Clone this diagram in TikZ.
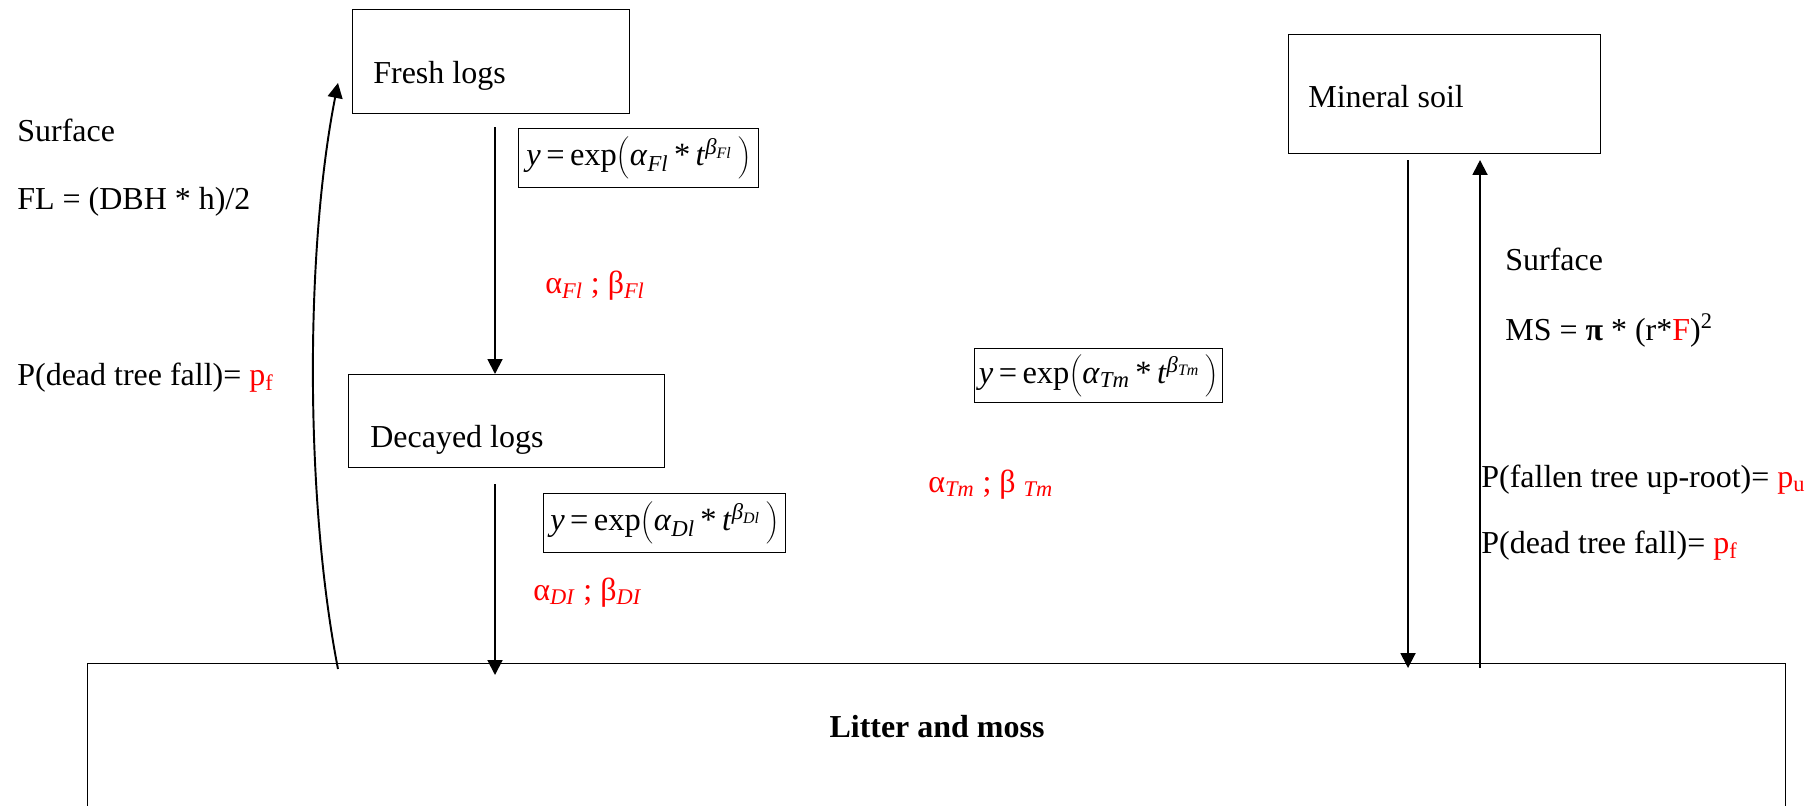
\documentclass[tikz,border=0pt]{standalone}
\usepackage{fontspec}
\setmainfont{Liberation Serif}
\usetikzlibrary{arrows.meta, positioning, calc}

\newcommand{\pxu}{0.02cm}
\newcommand{\expfit}[1]{\textit{y}\,=\,exp$\biggl($\textit{α}\textsubscript{\textit{#1}}\,*\,\textit{t}\textsuperscript{\textit{β}\textsubscript{\textit{#1}}}\,$\biggr)$}

\begin{document}
\begin{tikzpicture}[
    x=0.02cm, y=-0.02cm,
    font=\fontsize{18.2}{22}\selectfont,
    box/.style={draw, line width=0.8pt, anchor=north west, inner sep=0pt},
    fbox/.style={box, font=\fontsize{18.5}{22}\selectfont},
    txt/.style={anchor=base west, inner sep=0pt},
    arr/.style={line width=1.1pt, -{Triangle[length=8.5pt, width=8.5pt]}}
  ]
    \useasboundingbox (0,0) rectangle (1814,805);

    % compartments
    \node[box, minimum width=277*\pxu, minimum height=104*\pxu] (fresh) at (352,9) {};
    \node[box, minimum width=316*\pxu, minimum height=93*\pxu] (decayed) at (348,374) {};
    \node[box, minimum width=312*\pxu, minimum height=119*\pxu] (mineral) at (1288,34) {};
    \node[box, minimum width=1698*\pxu, minimum height=170*\pxu] (litter) at (87,663) {};
    \node[txt] at (373,83) {Fresh logs};
    \node[txt] at (370,447) {Decayed logs};
    \node[txt] at (1308,107) {Mineral soil};
    \node[anchor=base, inner sep=0pt, font=\fontsize{18.2}{22}\selectfont\bfseries] at (937,737) {Litter and moss};

    % decay curves
    \node[fbox, minimum width=240*\pxu, minimum height=59*\pxu] (eqfl) at (518,128) {\expfit{Fl}};
    \node[fbox, minimum width=248*\pxu, minimum height=54*\pxu] (eqtm) at (974,348) {\expfit{Tm}};
    \node[fbox, minimum width=242*\pxu, minimum height=59*\pxu] (eqdl) at (543,493) {\expfit{Dl}};

    % parameters
    \node[txt, text=red] at (545,293) {α\textsubscript{\textit{Fl}} ; β\textsubscript{\textit{Fl}}};
    \node[txt, text=red] at (928,492) {α\textsubscript{\textit{Tm}} ; β \textsubscript{\textit{Tm}}};
    \node[txt, text=red] at (533,600) {α\textsubscript{\textit{DI}} ; β\textsubscript{\textit{DI}}};

    % left notes
    \node[txt] at (17,141) {Surface};
    \node[txt] at (17,209) {FL = (DBH * h)/2};
    \node[txt] at (17,385) {P(dead tree fall)= \textcolor{red}{p\textsubscript{f}}};

    % right notes
    \node[txt] at (1505,270) {Surface};
    \node[txt] at (1505,340) {MS = \textbf{π} * (r*\textcolor{red}{F})\textsuperscript{2}};
    \node[txt] at (1481,487) {P(fallen tree up-root)= \textcolor{red}{p\textsubscript{u}}};
    \node[txt] at (1481,553) {P(dead tree fall)= \textcolor{red}{p\textsubscript{f}}};

    % flows
    \coordinate (flstart) at (495,127);
    \coordinate (dlstart) at (495,484);
    \coordinate (dlend) at (495,675);
    \coordinate (msdown) at (1408,160);
    \coordinate (msdownend) at (1408,668);
    \coordinate (msup) at (1480,668);
    \coordinate (msupend) at (1480,160);
    \coordinate (fallstart) at (338,669);
    \coordinate (fallend) at (338,83);
    \draw[arr] (flstart) -- (flstart |- decayed.north);
    \draw[arr] (dlstart) -- (dlend);
    \draw[arr] (msdown) -- (msdownend);
    \draw[arr] (msup) -- (msupend);
    \draw[arr] (fallstart) .. controls (305,500) and (305,250) .. (fallend);
\end{tikzpicture}
\end{document}
